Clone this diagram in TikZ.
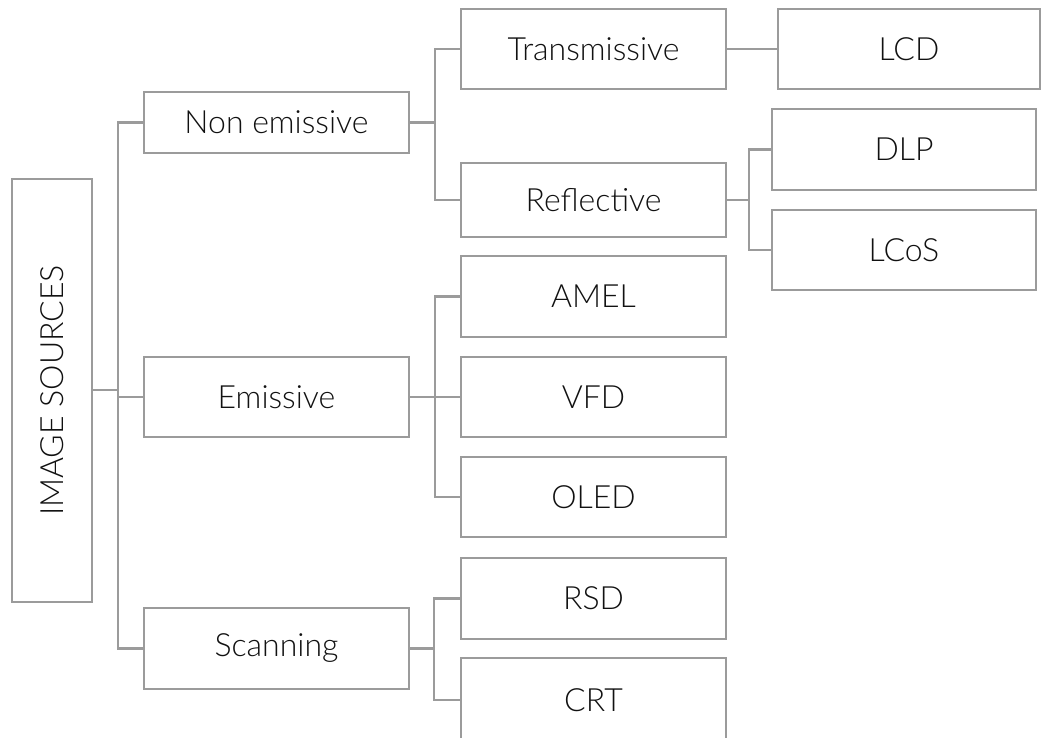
\documentclass[tikz,border=0pt]{standalone}
\usepackage{fontspec}
\setmainfont{Lato}[UprightFont=* Light]
\definecolor{linegray}{HTML}{9B9B9B}
\definecolor{txt}{HTML}{111111}
\begin{document}
\begin{tikzpicture}[x=1pt,y=-1pt,
  box/.style={draw=linegray, line width=2.7pt, fill=white, inner sep=0pt,
    minimum width=265pt, minimum height=80pt, text=txt,
    font=\fontsize{32}{38}\selectfont},
  conn/.style={draw=linegray, line width=2.7pt}]
\path[use as bounding box] (0,0) rectangle (1041,738);
\clip (0,0) rectangle (1041,738);
% nodes
\node[box, minimum width=80pt, minimum height=423pt] (IS) at (52,390.5) {\rotatebox{90}{IMAGE SOURCES}};
\node[box, minimum height=61pt] (NonE) at (276.5,122.5) {Non emissive};
\node[box] (Emis) at (276.5,397) {Emissive};
\node[box, minimum height=81pt] (Scan) at (276.5,648.5) {Scanning};
\node[box] (Trans) at (593.5,49) {Transmissive};
\node[box, minimum height=74pt] (Refl) at (593.5,200) {Reflective};
\node[box, minimum height=81pt] (AMEL) at (593.5,296.5) {AMEL};
\node[box] (VFD) at (593.5,397) {VFD};
\node[box] (OLED) at (593.5,497) {OLED};
\node[box, minimum height=81pt] (RSD) at (593.5,598.5) {RSD};
\node[box, minimum height=84pt] (CRT) at (593.5,700) {CRT};
\node[box, minimum width=262pt] (LCD) at (909,49) {LCD};
\node[box, minimum width=264pt, minimum height=81pt] (DLP) at (904,149.5) {DLP};
\node[box, minimum width=264pt] (LCoS) at (904,250) {LCoS};
% bus coordinates
\coordinate (b0a) at (118,390);
\coordinate (b0b) at (118,397);
\coordinate (b1) at (435,122.5);
\coordinate (b2) at (435,397);
\coordinate (b3) at (434,648.5);
\coordinate (b4) at (749,200);
% connectors
\draw[conn] (IS.east |- b0a) -- (b0a);
\draw[conn] (b0b) -- (Emis.west);
\draw[conn] (NonE.west) -| (b0a) |- (Scan.west);
\draw[conn] (NonE.east) -- (b1);
\draw[conn] (Trans.west) -| (b1) |- (Refl.west);
\draw[conn] (Trans.east) -- (LCD.west);
\draw[conn] (Refl.east) -- (b4);
\draw[conn] (DLP.west) -| (b4) |- (LCoS.west);
\draw[conn] (Emis.east) -- (VFD.west);
\draw[conn] (AMEL.west) -| (b2) |- (OLED.west);
\draw[conn] (Scan.east) -- (b3);
\draw[conn] (RSD.west) -| (b3 |- RSD.west) -- (b3 |- CRT.west) -- (CRT.west);
\end{tikzpicture}
\end{document}
